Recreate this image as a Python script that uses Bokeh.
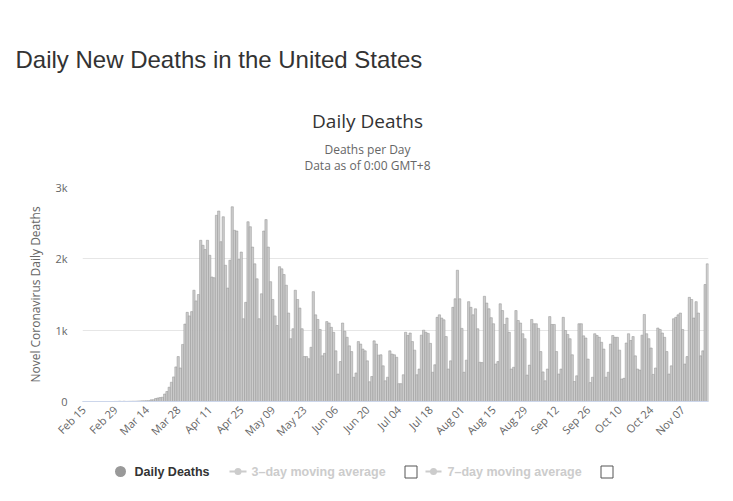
import pandas as pd
from math import pi
from bokeh.plotting import figure
from bokeh.layouts import column
from bokeh.models import Range1d, FixedTicker, ColumnDataSource
from bokeh.core.properties import value
from bokeh.embed import file_html
from bokeh.resources import INLINE

# ---------------- data ----------------
START = "2020-02-15"
feb = [0, 0, 0, 0, 0, 0, 0, 0, 0, 0, 0, 0, 0, 0, 1]
mar = [1, 4, 1, 4, 1, 2, 3, 4, 4, 6, 8, 9, 10, 12, 12, 23, 25, 42, 50, 55,
       60, 105, 140, 200, 270, 345, 485, 630, 470, 800, 1085]
apr = [1250, 1200, 1260, 1560, 1410, 1500, 2260, 2190, 2130, 2260, 2050, 1745, 1735, 2610, 2670,
       2240, 2590, 1910, 1590, 1980, 2730, 2400, 2390, 1990, 2095, 1160, 1390, 2520, 2450, 2165]
may = [1930, 1720, 1160, 1510, 2390, 2550, 2165, 1680, 1430, 1200, 1065, 1890, 1860, 1780, 1630,
       1240, 880, 1020, 1560, 1430, 1310, 1020, 630, 630, 600, 760, 1540, 1215, 1150, 1010, 640]
jun = [675, 1120, 1100, 1040, 970, 710, 385, 560, 1100, 985, 900, 780, 700, 340, 400,
       840, 805, 735, 710, 570, 277, 350, 850, 805, 650, 655, 500, 290, 340, 710]
jul = [665, 655, 620, 250, 250, 375, 970, 925, 960, 840, 720, 375, 455, 930, 1000, 970,
       955, 815, 410, 515, 1180, 1215, 1170, 1145, 910, 455, 570, 1320, 1440, 1840, 1440]
aug = [1025, 410, 580, 1400, 1320, 1215, 1300, 1020, 550, 545, 1475, 1380, 1300, 1175, 1090, 525,
       560, 1370, 1275, 1080, 1170, 970, 455, 480, 1275, 1135, 1100, 950, 880, 370, 510]
sep = [1150, 1090, 1090, 1025, 700, 415, 290, 455, 1190, 1080, 1080, 700, 385, 455, 1180,
       995, 940, 880, 655, 280, 360, 1090, 1090, 920, 890, 595, 265, 340, 950, 925]
oct_ = [900, 830, 735, 340, 410, 805, 925, 900, 900, 720, 315, 325, 820, 950, 855, 910,
        640, 455, 440, 930, 1220, 950, 880, 750, 380, 470, 1030, 1010, 960, 900, 700]
nov = [385, 500, 1160, 1180, 1215, 1240, 1010, 525, 630, 1460, 1430, 1170, 1400, 1240, 640,
       710, 1640, 1930]

tick_labels = ["Feb 15", "Feb 29", "Mar 14", "Mar 28", "Apr 11", "Apr 25", "May 09", "May 23",
               "Jun 06", "Jun 20", "Jul 04", "Jul 18", "Aug 01", "Aug 15", "Aug 29", "Sep 12",
               "Sep 26", "Oct 10", "Oct 24", "Nov 07"]
y_ticks = [0, 1000, 2000, 3000]
y_tick_labels = ["0", "1k", "2k", "3k"]

page_title = "Daily New Deaths in the United States"
chart_title = "Daily Deaths"
chart_subtitles = ["Deaths per Day", "Data as of 0:00 GMT+8"]
y_title = "Novel Coronavirus Daily Deaths"
legend_items = ["Daily Deaths", "3\u2013day moving average", "7\u2013day moving average"]

deaths = feb + mar + apr + may + jun + jul + aug + sep + oct_ + nov
dates = pd.date_range(START, periods=len(deaths), freq="D")
day_labels = list(dates.strftime("%b %d"))
idx = list(range(len(deaths)))
source = ColumnDataSource(dict(x=idx, deaths=deaths, day=day_labels))

W = 733
CH_FONT = "Open Sans"

def blank(height, y0):
    """A figure whose frame is the whole canvas, in page pixel coordinates."""
    f = figure(width=W, height=height, output_backend="svg", toolbar_location=None,
               x_range=Range1d(0, W), y_range=Range1d(y0 + height, y0),
               x_axis_type=None, y_axis_type=None, min_border=0, title=None)
    f.frame_align = False
    f.outline_line_color = None
    f.xgrid.visible = False
    f.ygrid.visible = False
    return f

# ---------------- header ----------------
HEAD_H = 175
head = blank(HEAD_H, 0)
head.text(x=[15], y=[59], text=[page_title], text_font=value("Liberation Sans"),
          text_font_size="24px", text_color="#333333", text_align="left", text_baseline="middle")
head.text(x=[367], y=[120], text=[chart_title], text_font=value(CH_FONT),
          text_font_size="19px", text_color="#333333", text_align="center", text_baseline="middle")
head.text(x=[367, 367], y=[149, 165], text=chart_subtitles, text_font=value(CH_FONT),
          text_font_size="12px", text_color="#666666", text_align="center", text_baseline="middle")

# ---------------- chart ----------------
CH_TOP, CH_H = HEAD_H, 280
FRAME_L, FRAME_R, FRAME_T, FRAME_B = 82, 708, 187, 401
p = figure(width=W, height=CH_H, output_backend="svg", toolbar_location=None,
           x_range=Range1d(-0.5, len(deaths) - 0.5), y_range=Range1d(0, 3000),
           min_border_left=FRAME_L, min_border_right=W - FRAME_R,
           min_border_top=FRAME_T - CH_TOP, min_border_bottom=CH_TOP + CH_H - FRAME_B,
           title=None)
p.frame_align = False
p.outline_line_color = None

p.vbar(x="x", top="deaths", width=1.0, source=source,
       fill_color="#cccccc", line_color="#939393", line_width=0.5)

p.yaxis.ticker = FixedTicker(ticks=y_ticks)
p.yaxis.major_label_overrides = {t: l for t, l in zip(y_ticks, y_tick_labels)}
p.yaxis.axis_line_color = None
p.yaxis.major_tick_line_color = None
p.yaxis.minor_tick_line_color = None
p.yaxis.major_tick_out = 0
p.yaxis.major_label_standoff = 15
p.yaxis.major_label_text_font = CH_FONT
p.yaxis.major_label_text_font_size = "11px"
p.yaxis.major_label_text_color = "#666666"
p.yaxis.axis_label = y_title
p.yaxis.axis_label_text_font = CH_FONT
p.yaxis.axis_label_text_font_size = "12px"
p.yaxis.axis_label_text_font_style = "normal"
p.yaxis.axis_label_text_color = "#666666"
p.yaxis.axis_label_standoff = 8
p.ygrid.ticker = FixedTicker(ticks=y_ticks)
p.ygrid.grid_line_color = "#e6e6e6"
p.xgrid.visible = False

tick_idx = [i for i, d in enumerate(day_labels) if d in tick_labels]
p.xaxis.ticker = FixedTicker(ticks=tick_idx)
p.xaxis.major_label_overrides = {i: day_labels[i] for i in tick_idx}
p.xaxis.major_label_orientation = pi / 4
p.xaxis.axis_line_color = "#ccd6eb"
p.xaxis.major_tick_line_color = None
p.xaxis.minor_tick_line_color = None
p.xaxis.major_tick_out = 0
p.xaxis.major_label_standoff = 6
p.xaxis.major_label_text_font = CH_FONT
p.xaxis.major_label_text_font_size = "11px"
p.xaxis.major_label_text_color = "#666666"

# ---------------- legend ----------------
LEG_TOP, LEG_H = CH_TOP + CH_H, 40
leg = blank(LEG_H, LEG_TOP)
leg.scatter(x=[120], y=[471], size=11, marker="circle", fill_color="#999999", line_color=None)
leg.text(x=[134, 251, 447], y=[471, 471, 471], text=legend_items,
         text_color=["#333333", "#cccccc", "#cccccc"], text_font=value("Liberation Sans"),
         text_font_size="12.5px", text_font_style="bold", text_align="left", text_baseline="middle")
leg.segment(x0=[229, 425], y0=[471, 471], x1=[246, 441], y1=[471, 471],
            line_color="#cccccc", line_width=2)
leg.scatter(x=[237.5, 433], y=[471, 471], size=7, marker="circle",
            fill_color="#cccccc", line_color=None)
leg.quad(left=[404.5, 600.5], right=[416.5, 612.5], top=[465.5, 465.5], bottom=[477.5, 477.5],
         fill_color="white", line_color="#555555", line_width=1)

layout = column(head, p, leg, spacing=0)
open("out.html", "w").write(file_html(layout, INLINE))
